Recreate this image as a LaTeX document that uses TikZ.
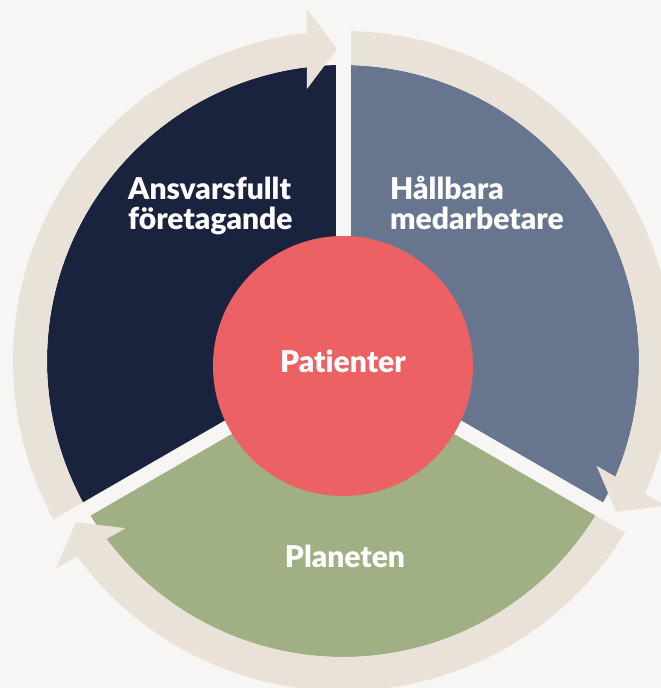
\documentclass[tikz,border=0pt]{standalone}
\usepackage{fontspec}
\newfontfamily\lblfont{Lato Black}[Ligatures={NoCommon,NoRare}]
\usepackage{tikz}
\usetikzlibrary{calc}
\definecolor{bgc}{RGB}{247,246,244}
\definecolor{navy}{RGB}{26,35,62}
\definecolor{slate}{RGB}{103,118,142}
\definecolor{sage}{RGB}{160,175,132}
\definecolor{coral}{RGB}{235,97,100}
\definecolor{sand}{RGB}{232,226,216}

\begin{document}
\begin{tikzpicture}[x=1pt, y=1pt, every node/.style={text=white, inner sep=0pt, font=\lblfont\fontsize{30}{30}\selectfont}]
	\fill[bgc] (-343,-327) rectangle (318,361);
	\useasboundingbox (-343,-327) rectangle (318,361);
	\coordinate(O) at (0,0);
	\coordinate(C) at (0,-5);

	% three parts
	\fill[navy] (O) -- (90:296) arc[start angle=90, end angle=210, radius=296] -- cycle;
	\fill[slate] (O) -- (-30:296) arc[start angle=-30, end angle=90, radius=296] -- cycle;
	\fill[sage] (O) -- (210:296) arc[start angle=210, end angle=330, radius=296] -- cycle;

	% ring
	\foreach \r in {0,-120,-240}
		\fill[sand, rotate=\r] (210:296) arc[start angle=210, end angle=97, radius=296]
			-- (96.3:330) arc[start angle=96.3, end angle=210, radius=330] -- cycle;

	% gaps
	\foreach \a in {90,210,330}
		\draw[bgc, line width=15] (O) -- (\a:345);

	% arrow heads
	\foreach \r in {0,-120,-240}
		\fill[sand, rotate=\r] (-36,352) -- (-6,312) -- (-36,272) -- cycle;

	\fill[coral] (C) circle (130);

	\node[anchor=base] (P) at (0,-12) {Patienter};
	\node[anchor=base] (N) at (2,-206) {Planeten};
	\node[anchor=base west, align=left] (F) at (-215,131) {Ansvarsfullt\\företagande};
	\node[anchor=base west, align=left] (M) at (47,131) {Hållbara\\medarbetare};
\end{tikzpicture}
\end{document}
